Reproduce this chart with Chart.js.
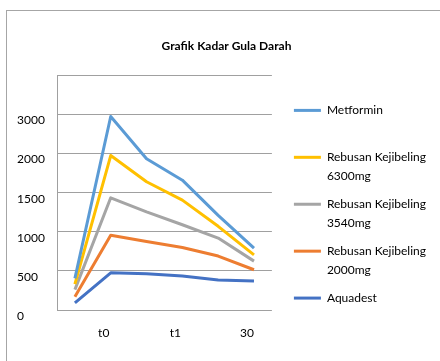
<!DOCTYPE html>
<html>
<head>
<meta charset="utf-8">
<script src="https://cdn.jsdelivr.net/npm/chart.js@4"></script>
<style>
  body { margin: 0; background: #fff; overflow: hidden; }
  #frame { position: absolute; left: 6px; top: 10px; width: 480px; height: 420px; border: 1px solid #a6a6a6; }
  #gulaChart { position: absolute; left: 0; top: 0; }
</style>
</head>
<body>
<div id="frame"></div>
<canvas id="gulaChart" width="440" height="361"></canvas>
<script>
const categories = ['', 't0', '', 't1', '', '30'];
const yTickLabels = ['0', '500', '1000', '1500', '2000', '3000', ''];

const seriesNames = [
    'Metformin',
    'Rebusan Kejibeling\n6300mg',
    'Rebusan Kejibeling\n3540mg',
    'Rebusan Kejibeling\n2000mg',
    'Aquadest'
];
const metformin = [405, 2475, 1935, 1660, 1210, 790];
const kejibeling6300 = [330, 1975, 1640, 1405, 1070, 705];
const kejibeling3540 = [260, 1435, 1255, 1090, 920, 625];
const kejibeling2000 = [170, 955, 875, 800, 690, 515];
const aquadest = [90, 475, 465, 435, 385, 370];

const seriesValues = [metformin, kejibeling6300, kejibeling3540, kejibeling2000, aquadest];
const seriesColors = ['#5b9bd5', '#ffc000', '#a5a5a5', '#ed7d31', '#4472c4'];

const font = 'Lato';
const gridColor = '#a0a0a0';

const gulaChart = document.getElementById('gulaChart');

const configGula = {
    type: 'line',
    data: {
        labels: categories,
        datasets: seriesValues.map((vals, i) => ({
            label: seriesNames[i],
            data: vals,
            borderColor: seriesColors[i],
            backgroundColor: seriesColors[i],
            borderWidth: 3,
            borderJoinStyle: 'round',
            pointRadius: 0,
            tension: 0
        }))
    },
    options: {
        responsive: false,
        animation: false,
        layout: {
            padding: { left: 17, right: 4, top: 0, bottom: 20 }
        },
        plugins: {
            title: {
                display: true,
                text: 'Grafik Kadar Gula Darah',
                color: '#000',
                font: { family: font, size: 12, weight: 'bold' },
                padding: { top: 39, bottom: 22 }
            },
            legend: {
                position: 'right',
                align: 'start',
                maxWidth: 220,
                title: {
                    display: true,
                    text: '',
                    padding: { top: 81, bottom: 0 }
                },
                labels: {
                    color: '#000',
                    font: { family: font, size: 12, lineHeight: 1.58 },
                    boxWidth: 27,
                    boxHeight: 3,
                    padding: 9,
                    generateLabels: (chart) => {
                        const items = Chart.defaults.plugins.legend.labels.generateLabels(chart);
                        items.forEach((item, i) => {
                            const lines = item.text.split('\n');
                            item.text = (lines.length === 1 && i < items.length - 1) ? [lines[0], ''] : lines;
                            item.fillStyle = item.strokeStyle;
                            item.lineWidth = 0;
                        });
                        return items;
                    }
                }
            },
            tooltip: { enabled: false }
        },
        scales: {
            x: {
                offset: true,
                grid: { display: false, drawTicks: false },
                border: { display: false },
                afterFit: (scale) => { scale.height = 31; },
                ticks: {
                    autoSkip: false,
                    maxRotation: 0,
                    padding: 16,
                    labelOffset: -7,
                    color: '#000',
                    font: { family: font, size: 12 }
                }
            },
            y: {
                min: 0,
                max: 3000,
                grid: { color: gridColor, lineWidth: 1, drawTicks: false },
                border: { display: true, color: gridColor },
                afterFit: (scale) => { scale.width = 40; },
                ticks: {
                    stepSize: 500,
                    crossAlign: 'far',
                    labelOffset: 6,
                    color: '#000',
                    font: { family: font, size: 12 },
                    callback: (value, index) => yTickLabels[index]
                }
            },
            gap: {
                position: 'right',
                grid: { display: false, drawTicks: false },
                border: { display: false },
                ticks: { display: false },
                afterFit: (scale) => { scale.width = 13; }
            }
        }
    }
};

new Chart(gulaChart, configGula);
</script>
</body>
</html>
